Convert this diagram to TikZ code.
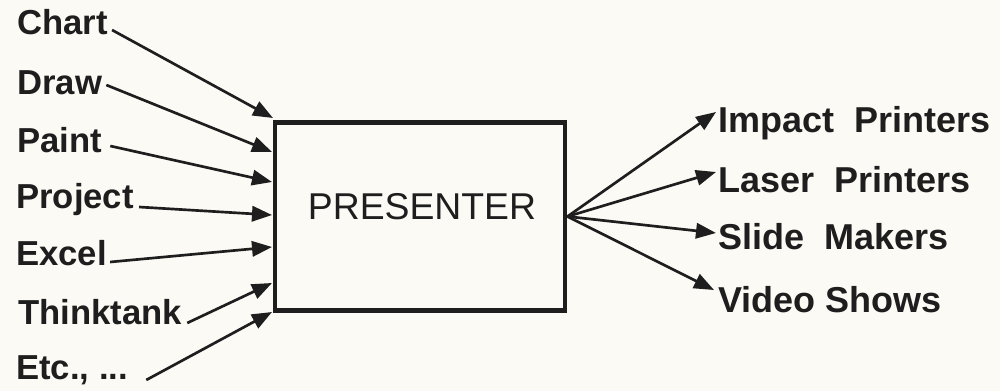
\documentclass[tikz,border=0pt]{standalone}
\usepackage{fontspec}
\setmainfont{Liberation Sans}
\usetikzlibrary{positioning, arrows.meta, calc}
\definecolor{paper}{RGB}{251,250,245}
\definecolor{ink}{RGB}{30,30,30}

\begin{document}
\begin{tikzpicture}[
        x=0.75pt, y=-0.75pt,
        color=ink,
        src/.style={font=\fontsize{26}{30}\selectfont\bfseries, inner sep=0pt, anchor=base west},
        dst/.style={font=\fontsize{27}{31}\selectfont\bfseries, inner sep=0pt, anchor=base west},
        box/.style={draw, line width=3.2pt, minimum width=218pt, minimum height=141pt, inner sep=0pt},
        arr/.style={-{Triangle[length=15pt, width=11.5pt]}, line width=2pt},
    ]
    \fill[paper] (0,0) rectangle (1000,391);
    \useasboundingbox (0,0) rectangle (1000,391);

    % ---- Presenter box ----
    \node[box] (presenter) at (420,216.5) {};
    \node[font=\fontsize{28}{32}\selectfont, anchor=base] (title) at (422,220) {PRESENTER};

    % ---- Sources (left) ----
    \node[src] (chart) at (17,35) {Chart};
    \node[src] (draw) at (17,95) {Draw};
    \node[src] (paint) at (17,153) {Paint};
    \node[src] (project) at (16,209) {Project};
    \node[src] (excel) at (16,266) {Excel};
    \node[src] (thinktank) at (18,325) {Thinktank};
    \node[src] (etc) at (16,380) {Etc., ...};

    \coordinate (in-chart) at (273,118);
    \coordinate (in-draw) at (272,152);
    \coordinate (in-paint) at (272,182);
    \coordinate (in-project) at (272,215);
    \coordinate (in-excel) at (272,247);
    \coordinate (in-thinktank) at (272,283);
    \coordinate (in-etc) at (272,312);

    \draw[arr] ($(chart.base east)+(4,-5)$) -- (in-chart);
    \draw[arr] ($(draw.base east)+(4,-10)$) -- (in-draw);
    \draw[arr] ($(paint.base east)+(8,-7)$) -- (in-paint);
    \draw[arr] ($(project.base east)+(5,-2)$) -- (in-project);
    \draw[arr] ($(excel.base east)+(3,-4)$) -- (in-excel);
    \draw[arr] ($(thinktank.base east)+(5,-2)$) -- (in-thinktank);
    \draw[arr] ($(etc.base east)+(18,0)$) -- (in-etc);

    % ---- Outputs (right) ----
    \node[dst] (impact) at (718,133) {Impact~~Printers};
    \node[dst] (laser) at (718,193) {Laser~~Printers};
    \node[dst] (slide) at (718,250) {Slide~~Makers};
    \node[dst] (video) at (718,313) {Video Shows};

    \draw[arr] (presenter.east) -- ($(impact.base west)+(-2,-21)$);
    \draw[arr] (presenter.east) -- ($(laser.base west)+(-2,-21)$);
    \draw[arr] (presenter.east) -- ($(slide.base west)+(-2,-17)$);
    \draw[arr] (presenter.east) -- ($(video.base west)+(-4,-23)$);
\end{tikzpicture}
\end{document}
